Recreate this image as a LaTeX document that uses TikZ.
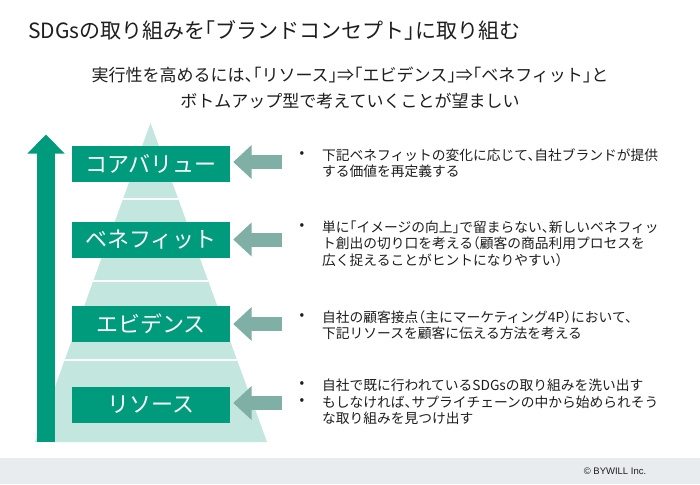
\documentclass[tikz,border=0pt]{standalone}
\usepackage{fontspec}
\setmainfont{Noto Sans CJK JP}[RawFeature={+halt}]
\newfontfamily\copyfont{Liberation Sans}
\usetikzlibrary{arrows.meta, positioning}
\definecolor{brand}{HTML}{009B7D}
\definecolor{pyramid}{HTML}{C3E7DE}
\definecolor{pointer}{HTML}{80AFA6}
\definecolor{footer}{HTML}{E9ECEE}
\definecolor{ink}{HTML}{1E1E1E}

\begin{document}
\begin{tikzpicture}[
    x=1pt, y=-1pt,
    tier/.style={
      fill=brand, text=white, inner sep=0pt,
      minimum width=158pt, minimum height=36pt,
      font=\fontsize{22}{22}\selectfont},
    uparr/.style={brand, line width=18pt,
      -{Triangle[width=36pt, length=19pt]}},
    sidearr/.style={pointer, line width=14pt, shorten >=3pt,
      -{Triangle[width=33pt, length=18.5pt]}},
    dot/.style={text=ink, inner sep=0pt,
      font=\fontsize{13.75}{16.5}\selectfont},
    point/.style={anchor=north west, align=left, text=ink, inner sep=0pt,
      font=\fontsize{13.75}{16.5}\selectfont},
  ]
  \useasboundingbox (0,0) rectangle (700,484);
  \fill[white] (0,0) rectangle (700,484);

  % ── Heading ──
  \node[anchor=west, inner sep=0pt, text=ink,
        font=\fontsize{21}{21}\selectfont] (title) at (28,30)
    {SDGsの取り組みを「ブランドコンセプト」に取り組む};
  \node[align=center, inner sep=0pt, text=ink,
        font=\fontsize{17}{26}\selectfont] (lead) at (350,88)
    {実行性を高めるには、「リソース」⇒「エビデンス」⇒「ベネフィット」と\\
     ボトムアップ型で考えていくことが望ましい};

  % ── Pyramid ──
  \begin{scope}
    \clip (150.5,123) -- (267,442) -- (35,442) -- cycle;
    \fill[pyramid] (30,120) rectangle (275,445);
    \foreach \y in {199,281,360}
      \draw[white, line width=2.5pt] (30,\y) -- (275,\y);
  \end{scope}

  \node[tier] (core) at (151,164) {コアバリュー};
  \node[tier] (bene) at (151,239.5) {ベネフィット};
  \node[tier] (evid) at (151,324) {エビデンス};
  \node[tier] (reso) at (151,405) {リソース};

  % ── Bottom-up arrow ──
  \coordinate (upfoot) at (46,442);
  \coordinate (uptip) at (46,134.5);
  \draw[uparr] (upfoot) -- (uptip);

  % ── Side pointers ──
  \coordinate (p1) at (282,162);
  \coordinate (p2) at (282,239.5);
  \coordinate (p3) at (282,324);
  \coordinate (p4) at (282,403);
  \draw[sidearr] (p1) -- (p1 -| core.east);
  \draw[sidearr] (p2) -- (p2 -| bene.east);
  \draw[sidearr] (p3) -- (p3 -| evid.east);
  \draw[sidearr] (p4) -- (p4 -| reso.east);

  % ── Notes ──
  \node[dot] (d1) at (302,155) {•};
  \node[point] (n1) at (322,148.5)
    {下記ベネフィットの変化に応じて、自社ブランドが提供\\
     する価値を再定義する};

  \node[dot] (d2) at (302,227) {•};
  \node[point] (n2) at (322,220.5)
    {単に「イメージの向上」で留まらない、新しいベネフィッ\\
     ト創出の切り口を考える（顧客の商品利用プロセスを\\
     広く捉えることがヒントになりやすい）};

  \node[dot] (d3) at (302,317) {•};
  \node[point] (n3) at (322,310.5)
    {自社の顧客接点（主にマーケティング4P）において、\\
     下記リソースを顧客に伝える方法を考える};

  \node[dot] (d4) at (302,385) {•};
  \node[point] (n4) at (322,378.5)
    {自社で既に行われているSDGsの取り組みを洗い出す};
  \node[dot] (d5) at (302,402) {•};
  \node[point] (n5) at (322,395.5)
    {もしなければ、サプライチェーンの中から始められそう\\
     な取り組みを見つけ出す};

  % ── Footer ──
  \fill[footer] (0,458) rectangle (700,484);
  \node[inner sep=0pt, text=ink, font=\copyfont\fontsize{9.5}{9.5}\selectfont]
    (copy) at (615,471) {© BYWILL Inc.};
\end{tikzpicture}
\end{document}
